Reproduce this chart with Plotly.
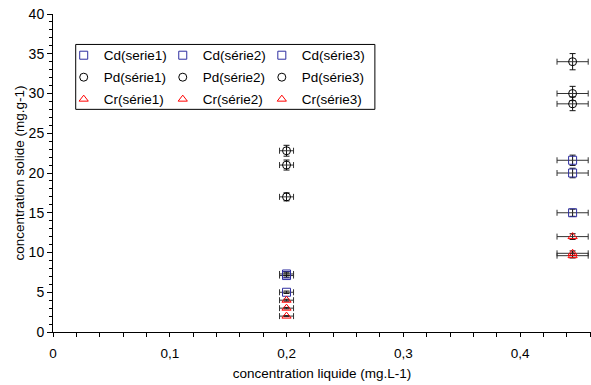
import plotly.graph_objects as go

# ---- data ----
x_conc = [0.2, 0.445]
cd_labels = ["Cd(serie1)", "Cd(série2)", "Cd(série3)"]
pd_labels = ["Pd(série1)", "Pd(série2)", "Pd(série3)"]
cr_labels = ["Cr(série1)", "Cr(série2)", "Cr(série3)"]
cd_values = [[5.0, 15.0], [7.1, 20.0], [7.3, 21.6]]
pd_values = [[17.0, 28.7], [21.0, 30.0], [22.8, 34.0]]
cr_values = [[2.0, 9.6], [3.0, 9.9], [4.0, 12.0]]
x_err_frac = 0.03
y_err_frac = 0.03
x_tickvals = [0, 0.1, 0.2, 0.3, 0.4]
x_ticktext = ["0", "0,1", "0,2", "0,3", "0,4"]
y_tickvals = [0, 5, 10, 15, 20, 25, 30, 35, 40]
y_ticktext = ["0", "5", "10", "15", "20", "25", "30", "35", "40"]

# ---- layout (screen pixels; page body margin removed in post_script) ----
W, H = 591, 385
SCR_LEFT, SCR_TOP, SCR_BOTTOM = 53.3, 13.5, 332
ML = SCR_LEFT
MT = SCR_TOP
MB = H - SCR_BOTTOM
MR = 0
X_PER_PX = 0.1 / 116.7
x_max = (W - ML - MR) * X_PER_PX

plot_w = W - ML - MR
plot_h = H - MT - MB
def px_to_paper_x(px):
    return (px - ML) / plot_w
def px_to_paper_y(py):
    return (H - MB - py) / plot_h

FONT = "Liberation Sans, Arial, sans-serif"
FS = 13.5

fig = go.Figure()

groups = [
    (cd_labels, cd_values, "square-open", "#2e2ea0"),
    (pd_labels, pd_values, "circle-open", "#000000"),
    (cr_labels, cr_values, "triangle-up-open", "#ff0000"),
]

col_px = [64, 163, 262]
row_px = [55, 77, 99]
legend_layouts = {}
k = 0
for r, (labels, values, sym, col) in enumerate(groups):
    for c in range(3):
        k += 1
        lname = "legend" if k == 1 else f"legend{k}"
        ys = values[c]
        fig.add_trace(go.Scatter(
            x=x_conc, y=ys, mode="markers", name=labels[c],
            marker=dict(symbol=sym, size=8, color=col, line=dict(width=1, color=col)),
            error_x=dict(type="data", array=[v * x_err_frac for v in x_conc],
                         color="#333333", thickness=1, width=3),
            error_y=dict(type="data", array=[v * y_err_frac for v in ys],
                         color="#111111", thickness=1, width=3),
            legend=lname, showlegend=True, cliponaxis=False,
        ))
        legend_layouts[lname] = dict(
            x=px_to_paper_x(col_px[c]), y=px_to_paper_y(row_px[r]),
            xref="paper", yref="paper",
            xanchor="left", yanchor="middle", bgcolor="rgba(0,0,0,0)", borderwidth=0,
            font=dict(family=FONT, size=FS, color="#000"),
            itemwidth=30,
        )

fig.update_layout(
    width=W, height=H,
    margin=dict(l=ML, r=MR, t=MT, b=MB, autoexpand=False),
    paper_bgcolor="white", plot_bgcolor="white",
    font=dict(family=FONT, size=FS, color="#000"),
    shapes=[dict(type="rect", xref="paper", yref="paper",
                 x0=px_to_paper_x(76), x1=px_to_paper_x(375),
                 y0=px_to_paper_y(109), y1=px_to_paper_y(44),
                 line=dict(color="#000", width=1), fillcolor="rgba(0,0,0,0)")],
    **legend_layouts,
)

fig.update_xaxes(
    range=[0, x_max], tickvals=x_tickvals, ticktext=x_ticktext,
    showline=True, linecolor="#000", linewidth=1, showgrid=False, zeroline=False,
    ticks="outside", ticklen=4, tickcolor="#000", ticklabelstandoff=5,
    ticklabeloverflow="allow",
    minor=dict(dtick=0.02, ticks="outside", ticklen=4, tickcolor="#000", showgrid=False),
    title=dict(text="concentration liquide (mg.L-1)", standoff=8,
               font=dict(size=FS)),
    tickfont=dict(size=FS),
)
fig.update_yaxes(
    range=[0, 40], tickvals=y_tickvals, ticktext=y_ticktext,
    showline=True, linecolor="#000", linewidth=1, showgrid=False, zeroline=False,
    ticks="outside", ticklen=5, tickcolor="#000", ticklabeloverflow="allow",
    minor=dict(dtick=1, ticks="outside", ticklen=3, tickcolor="#000", showgrid=False),
    title=dict(text="concentration solide (mg.g-1)", standoff=0,
               font=dict(size=FS)),
    tickfont=dict(size=14),
)

fig.write_html("out.html", config={"displayModeBar": False},
               post_script="document.body.style.margin='0';document.body.style.overflow='hidden';")
